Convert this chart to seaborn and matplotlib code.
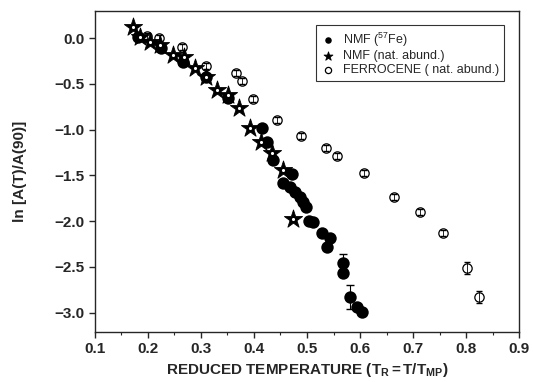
import numpy as np
import pandas as pd
import matplotlib
matplotlib.use('Agg')
import matplotlib.pyplot as plt
import seaborn as sns
from matplotlib.ticker import MultipleLocator

# NMF (57Fe) - filled circles
fe57_x = [0.181, 0.225, 0.266, 0.309, 0.351, 0.415, 0.425, 0.436, 0.472, 0.455,
          0.468, 0.477, 0.487, 0.492, 0.498, 0.504, 0.511, 0.528, 0.543, 0.538,
          0.568, 0.568, 0.581, 0.594, 0.604]
fe57_y = [0.011, -0.109, -0.262, -0.426, -0.655, -0.983, -1.135, -1.332, -1.485, -1.583,
          -1.627, -1.681, -1.736, -1.790, -1.845, -1.998, -2.009, -2.129, -2.183, -2.282,
          -2.456, -2.566, -2.828, -2.937, -2.991]
fe57_err = [0, 0, 0, 0, 0, 0, 0, 0, 0, 0,
            0, 0, 0, 0, 0, 0, 0, 0, 0, 0,
            0.10, 0, 0.13, 0, 0]

# NMF (nat. abund.) - stars
nat_x = [0.172, 0.185, 0.204, 0.223, 0.247, 0.268, 0.289, 0.309, 0.330, 0.351,
         0.372, 0.392, 0.413, 0.434, 0.455, 0.474]
nat_y = [0.120, 0.011, -0.044, -0.076, -0.186, -0.207, -0.328, -0.426, -0.568, -0.622,
         -0.764, -0.983, -1.135, -1.255, -1.441, -1.976]

# Ferrocene (nat. abund.) - open circles
fc_x = [0.198, 0.221, 0.264, 0.309, 0.366, 0.377, 0.398, 0.443, 0.489, 0.536,
        0.557, 0.608, 0.664, 0.713, 0.757, 0.802, 0.825]
fc_y = [0.022, 0.000, -0.098, -0.306, -0.382, -0.469, -0.666, -0.895, -1.070, -1.201,
        -1.288, -1.474, -1.736, -1.900, -2.129, -2.511, -2.828]
fc_err = [0.03, 0.03, 0.03, 0.03, 0.03, 0.03, 0.03, 0.03, 0.03, 0.03,
          0.03, 0.03, 0.03, 0.03, 0.03, 0.07, 0.07]

sns.set_style('ticks')
plt.rcParams['font.family'] = ['Liberation Sans', 'DejaVu Sans']
plt.rcParams['mathtext.fontset'] = 'custom'
plt.rcParams['mathtext.rm'] = 'Liberation Sans'
plt.rcParams['mathtext.bf'] = 'Liberation Sans:bold'

fig = plt.figure(figsize=(5.33, 3.82), dpi=100)
ax = fig.add_axes([0.178, 0.131, 0.796, 0.840])

# error bars first
ax.errorbar(fe57_x, fe57_y, yerr=fe57_err, fmt='none', ecolor='black',
            elinewidth=0.8, capsize=3, zorder=2)
ax.errorbar(fc_x, fc_y, yerr=fc_err, fmt='none', ecolor='black',
            elinewidth=0.6, capsize=2.5, zorder=4)

sns.scatterplot(x=fc_x, y=fc_y, ax=ax, marker='o', s=45, facecolor='white',
                edgecolor='black', linewidth=0.9, zorder=3,
                label='FERROCENE ( nat. abund.)')
sns.scatterplot(x=fe57_x, y=fe57_y, ax=ax, marker='o', s=80, color='black',
                edgecolor='black', linewidth=0, zorder=5,
                label=r'NMF ($^{57}$Fe)')
sns.scatterplot(x=nat_x, y=nat_y, ax=ax, marker='*', s=190, color='black',
                edgecolor='black', linewidth=0.6, zorder=6,
                label='NMF (nat. abund.)')
# white dot in the star centres
sns.scatterplot(x=nat_x, y=nat_y, ax=ax, marker='o', s=5, color='white',
                linewidth=0, zorder=7, legend=False)

ax.set_xlim(0.1, 0.9)
ax.set_ylim(-3.21, 0.295)
ax.xaxis.set_major_locator(MultipleLocator(0.1))
ax.xaxis.set_minor_locator(MultipleLocator(0.05))
ax.yaxis.set_major_locator(MultipleLocator(0.5))
ax.tick_params(axis='both', which='major', direction='out', length=4, width=1,
               labelsize=11)
ax.tick_params(axis='x', which='minor', direction='out', length=2.5, width=0.8)
for lab in ax.get_xticklabels() + ax.get_yticklabels():
    lab.set_fontweight('bold')
for sp in ax.spines.values():
    sp.set_linewidth(1.0)
    sp.set_visible(True)

ax.set_xlabel(r'REDUCED TEMPERATURE (T$_\mathbf{R}$$\,$=$\,$T/T$_\mathbf{MP}$)',
              fontsize=11, fontweight='bold', labelpad=3)
ax.set_ylabel('ln [A(T)/A(90)]', fontsize=11, fontweight='bold', labelpad=20)

handles, labels = ax.get_legend_handles_labels()
order = [labels.index(r'NMF ($^{57}$Fe)'), labels.index('NMF (nat. abund.)'),
         labels.index('FERROCENE ( nat. abund.)')]
leg = ax.legend([handles[i] for i in order], [labels[i] for i in order],
                loc='upper right', bbox_to_anchor=(0.98, 0.975), fontsize=9,
                frameon=True, fancybox=False, edgecolor='black',
                handletextpad=0.6, borderpad=0.4, labelspacing=0.15,
                handlelength=1.2)
leg.get_frame().set_linewidth(0.8)
# small legend symbols as in the original
for h, sz in zip(leg.legend_handles, [22, 45, 20]):
    h.set_sizes([sz])

fig.savefig('out.png', dpi=100)
